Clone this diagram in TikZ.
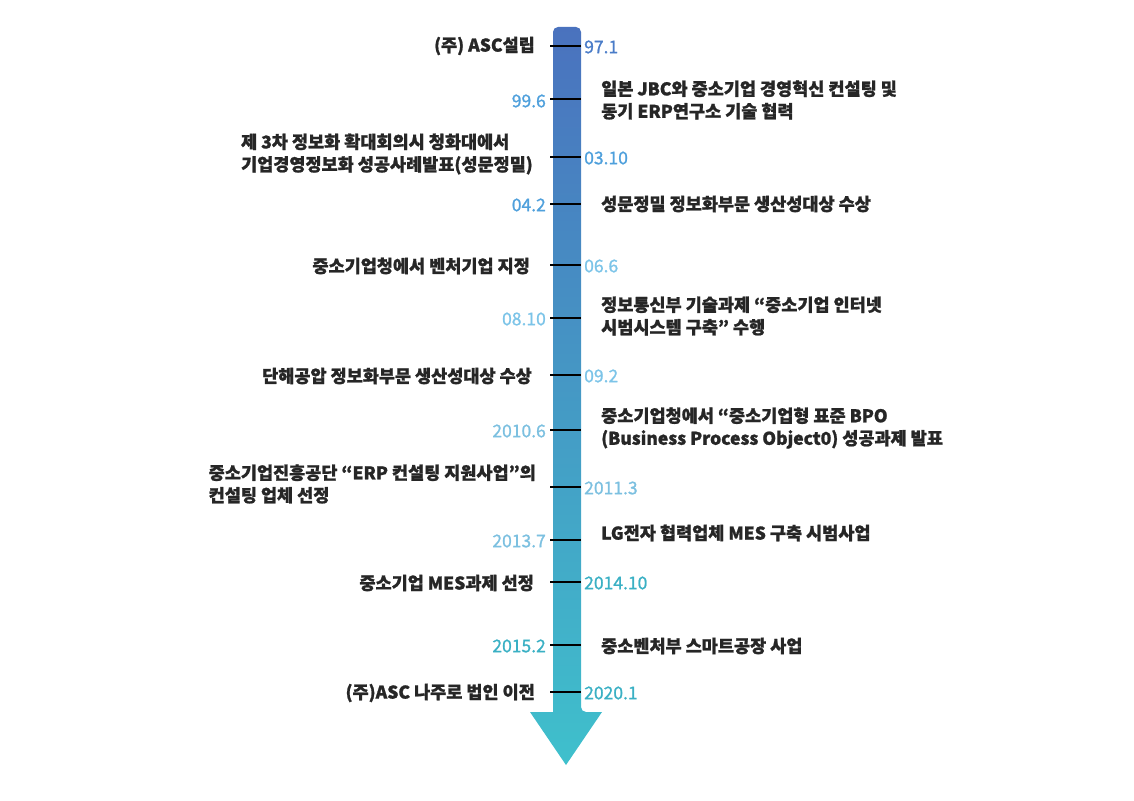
\documentclass[tikz,border=0pt]{standalone}
\usepackage{fontspec}
\setmainfont{Noto Sans CJK KR}[FakeBold=1.2]
\definecolor{ctop}{HTML}{4A72BE}
\definecolor{cbot}{HTML}{3FC0CC}
\definecolor{ca}{HTML}{4A7CC8}
\definecolor{cb}{HTML}{4FA0DC}
\definecolor{cc}{HTML}{7CC4E8}
\definecolor{cd}{HTML}{7CC0E0}
\definecolor{ce}{HTML}{3AB0C4}
\begin{document}
\begin{tikzpicture}[x=1pt,y=-1pt,
  ev/.style={font=\fontsize{17.5}{22.5}\bfseries,text=black!85,inner sep=0pt,align=left},
  dt/.style={font=\fontsize{17.5}{20}\selectfont,inner sep=0pt},
  tick/.style={line width=2.2pt,black}]
\useasboundingbox (0,0) rectangle (1134,800);
\shade[top color=ctop,bottom color=cbot,rounded corners=5pt] (553,712) -- (553,27) -- (581,27) -- (581,712) [sharp corners] -- (602,712) -- (566,765) -- (530,712) -- cycle;
\foreach \y in {46,99,157,204,265,318,375,430,487,540,582,645,692}
  \draw[tick] (550,\y) -- (581,\y);
% right dates
\node[dt,anchor=west,text=ca] (d1) at (584,47) {97.1};
\node[dt,anchor=west,text=cb] (d3) at (584,158) {03.10};
\node[dt,anchor=west,text=cc] (d5) at (584,266) {06.6};
\node[dt,anchor=west,text=cc] (d7) at (584,376) {09.2};
\node[dt,anchor=west,text=cd] (d9) at (584,488) {2011.3};
\node[dt,anchor=west,text=ce] (d11) at (584,583) {2014.10};
\node[dt,anchor=west,text=ce] (d13) at (584,693) {2020.1};
% left dates
\node[dt,anchor=east,text=cb] (d2) at (546,101) {99.6};
\node[dt,anchor=east,text=cb] (d4) at (546,205) {04.2};
\node[dt,anchor=east,text=cc] (d6) at (546,319) {08.10};
\node[dt,anchor=east,text=cd] (d8) at (546,431) {2010.6};
\node[dt,anchor=east,text=cd] (d10) at (546,541) {2013.7};
\node[dt,anchor=east,text=ce] (d12) at (546,646) {2015.2};
% events
\node[ev,anchor=east] (e1) at (535,46) {(주) ASC설립};
\node[ev,anchor=west] (e2) at (601,100) {일본 JBC와 중소기업 경영혁신 컨설팅 및\\동기 ERP연구소 기술 협력};
\node[ev,anchor=east] (e3) at (533,154) {제 3차 정보화 확대회의시 청화대에서\\기업경영정보화 성공사례발표(성문정밀)};
\node[ev,anchor=west] (e4) at (601,204) {성문정밀 정보화부문 생산성대상 수상};
\node[ev,anchor=east] (e5) at (530,266) {중소기업청에서 벤처기업 지정};
\node[ev,anchor=west] (e6) at (601,316) {정보통신부 기술과제 “중소기업 인터넷\\시범시스템 구축” 수행};
\node[ev,anchor=east] (e7) at (532,376) {단해공압 정보화부문 생산성대상 수상};
\node[ev,anchor=west] (e8) at (601,428) {중소기업청에서 “중소기업형 표준 BPO\\(Business Process Object0) 성공과제 발표};
\node[ev,anchor=east] (e9) at (536,484) {중소기업진흥공단 “ERP 컨설팅 지원사업”의\\컨설팅 업체 선정};
\node[ev,anchor=west] (e10) at (601,533) {LG전자 협력업체 MES 구축 시범사업};
\node[ev,anchor=east] (e11) at (534,583) {중소기업 MES과제 선정};
\node[ev,anchor=west] (e12) at (601,646) {중소벤처부 스마트공장 사업};
\node[ev,anchor=east] (e13) at (535,693) {(주)ASC 나주로 법인 이전};
\end{tikzpicture}
\end{document}
